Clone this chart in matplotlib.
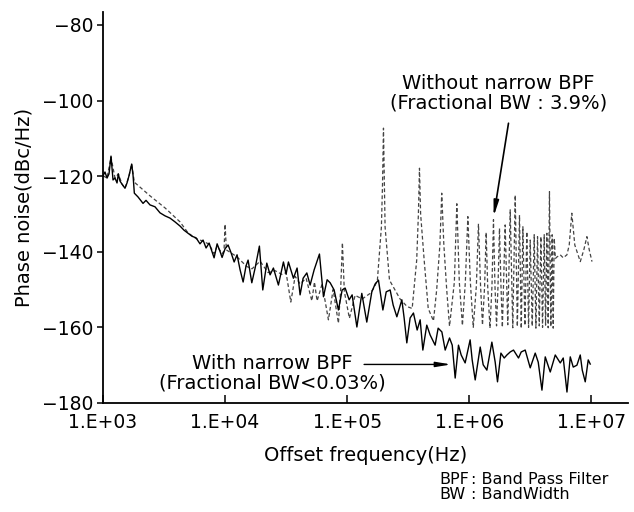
import matplotlib
matplotlib.use('Agg')
import matplotlib.pyplot as plt
from matplotlib.ticker import NullLocator

plt.rcParams['font.family'] = ['DejaVu Sans']

# --- measured phase noise, with narrow BPF (solid) ---
solid_hz = [1000, 1038, 1079, 1120, 1163, 1208, 1254, 1303, 1335, 1378,
            1431, 1514, 1573, 1633, 1718, 1762, 1806,
            1936, 2128, 2251, 2426, 2666, 2931, 3222, 3541, 3892, 4277,
            4612, 4973, 5362, 5781, 6233, 6601, 6990, 7402, 7838, 8130,
            8609, 9116, 9454, 10000, 10590, 11210,
            11870, 12540, 13280, 14060, 14860, 15440, 16560, 17630, 19110, 20370,
            21970, 23380, 24890, 27350, 30070, 31620, 33040, 36310, 38910, 41180,
            43590, 46760, 49760, 53650, 59330, 63990, 68580, 72590, 78220, 84860,
            91040, 96360, 103900, 109900, 120200, 131900, 144900, 159300, 169700, 180600,
            196300, 209000, 225100, 238300, 255500, 280700, 293100, 308300, 328200, 349400,
            374700, 396600, 417200, 449200, 478600, 525900, 556800, 597300, 635800, 690100,
            726200, 767700, 817000, 859700, 926500, 1018000, 1058000, 1120000, 1231000, 1302000,
            1396000, 1534000, 1633000, 1706000, 1819000, 1936000, 2037000, 2168000, 2307000, 2535000,
            2668000, 2877000, 3162000, 3475000, 3678000, 3945000, 4198000, 4614000, 5071000, 5573000,
            5895000, 6324000, 6730000, 7119000, 7632000, 8125000, 8437000, 8927000, 9445000, 9811000]
solid_db = [-119.9, -118.9, -120.5, -119.4, -114.7, -121.0, -120.5, -121.8, -119.4, -121.3,
            -122.1, -123.2, -121.8, -119.9, -116.8, -119.7, -124.5,
            -125.5, -127.2, -126.4, -127.6, -128.1, -129.7, -130.5, -131.1, -132.1, -133.2,
            -134.3, -135.1, -135.9, -136.3, -137.9, -136.9, -139.0, -137.7, -140.1, -141.6,
            -137.9, -140.0, -141.5, -139.2, -138.2, -140.3,
            -142.7, -140.8, -144.8, -148.0, -143.7, -142.2, -148.2, -144.3, -138.5, -150.1,
            -143.0, -146.1, -144.3, -148.8, -142.7, -145.9, -142.7, -147.0, -144.3, -151.4,
            -147.0, -145.6, -148.8, -144.8, -140.6, -151.9, -147.4, -148.2, -150.1, -155.4,
            -150.1, -149.6, -152.7, -151.4, -159.9, -151.0, -158.6, -150.6, -148.5, -147.5,
            -155.4, -150.6, -150.1, -154.1, -157.2, -152.7, -157.5, -164.1, -157.5, -156.2,
            -160.7, -158.0, -166.0, -159.4, -162.0, -164.7, -160.2, -161.2, -166.0, -162.8,
            -164.7, -173.4, -164.7, -167.3, -169.4, -163.3, -168.6, -173.9, -165.2, -169.9,
            -171.3, -163.9, -169.2, -174.4, -166.8, -168.1, -167.3, -166.5, -166.0, -168.1,
            -166.5, -166.0, -170.7, -166.8, -169.2, -176.6, -167.8, -171.8, -167.3, -169.4,
            -168.1, -177.1, -167.8, -170.5, -170.0, -167.3, -171.3, -174.4, -168.6, -169.7]

# --- without narrow BPF (dashed) ---
dash_hz = [1000, 1079, 1163, 1254, 1335, 1431, 1514, 1633, 1718, 1806,
           2426, 3222, 4277,
           4973, 5781, 6601, 7402, 8130, 8609, 9454, 9800, 10000, 10250, 12470, 15070,
           16640, 19360, 22510, 25680, 29310, 31620, 34560, 37500, 41180, 46150,
           51380, 54000, 56750, 62380, 70270, 76770, 84860, 88510, 91500, 94850,
           104400, 116300, 132700, 154400, 166400,
           177000, 190900, 195000, 198500, 201700, 204600, 222300, 271600, 310200, 341100,
           371500, 383600, 391500, 400000, 427700, 461700, 509700,
           541700, 575800, 595700, 619600, 654300, 690000,
           756000, 792000, 830000, 880000,
           930000, 975000, 1022000, 1080000,
           1145000, 1191000, 1239000, 1285000,
           1338000, 1377000, 1417000, 1480000,
           1537000, 1581000, 1626000, 1675000,
           1722000, 1771000, 1821000, 1870000,
           1971000, 2070000, 2168000, 2275000, 2383000, 2480000, 2583000, 2670000,
           2754000, 2860000, 2966000, 3065000, 3162000, 3285000, 3409000, 3520000,
           3630000, 3750000, 3867000, 3990000, 4117000, 4225000, 4329000, 4440000,
           4546000, 4665000, 4783000, 4880000, 4972000,
           5080000, 5224000, 5570000, 5895000, 6320000, 6600000, 6930000, 7330000,
           8130000, 8690000, 9210000, 9630000, 10140000]
dash_db = [-119.9, -120.5, -115.0, -120.5, -119.4, -122.1, -123.2, -120.0, -116.8, -121.6,
           -125.2, -128.4, -132.1,
           -135.0, -136.5, -137.2, -138.0, -140.5, -138.5, -140.5, -139.8, -132.7, -139.5, -141.3, -143.9,
           -144.5, -142.5, -145.5, -145.0, -146.0, -145.5, -153.3, -146.5, -148.5, -147.0,
           -153.0, -148.0, -153.0, -148.5, -158.0, -150.0, -158.9, -150.0, -137.6, -150.5,
           -157.6, -151.5, -152.5, -151.0, -149.5,
           -147.5, -133.4, -122.0, -107.3, -122.0, -133.4, -147.5, -152.5, -154.5, -155.0,
           -142.2, -130.0, -117.9, -130.0, -142.2, -155.0, -158.3,
           -150.0, -138.0, -124.5, -138.0, -150.0, -159.7,
           -148.0, -127.3, -148.0, -159.5,
           -148.0, -130.7, -148.0, -160.0,
           -149.0, -132.6, -149.0, -159.4,
           -149.0, -134.9, -149.0, -160.2,
           -149.0, -131.5, -149.0, -159.6,
           -149.0, -133.8, -149.0, -160.0,
           -132.9, -159.3, -128.9, -160.1, -125.0, -159.8, -130.3, -160.3,
           -133.4, -159.5, -134.7, -160.0, -136.9, -159.7, -135.5, -160.2,
           -136.0, -159.6, -136.0, -160.0, -135.5, -159.4, -135.1, -160.1,
           -124.1, -159.8, -135.5, -160.2, -136.4,
           -141.8, -141.4, -140.8, -141.6, -140.8, -138.2, -129.8, -138.2,
           -142.6, -139.5, -136.0, -139.5, -142.6]

x_ticks = [1e3, 1e4, 1e5, 1e6, 1e7]
x_tick_labels = ['1.E+03', '1.E+04', '1.E+05', '1.E+06', '1.E+07']
y_ticks = [-180, -160, -140, -120, -100, -80]

fig = plt.figure(figsize=(6.34, 5.12), dpi=100)
ax = fig.add_axes([103 / 634, 109 / 512, 525 / 634, 391.3 / 512])

ax.plot(dash_hz, dash_db, color='#444444', lw=0.9, dashes=(3, 2), zorder=2)
ax.plot(solid_hz, solid_db, color='black', lw=1.0, zorder=3)

ax.set_xscale('log')
ax.set_xlim(1e3, 2e7)
ax.set_ylim(-180, -76.5)
ax.set_xticks(x_ticks)
ax.set_xticklabels(x_tick_labels)
ax.xaxis.set_minor_locator(NullLocator())
ax.set_yticks(y_ticks)
ax.tick_params(axis='x', direction='in', length=6, width=1.1, labelsize=13.5, pad=7)
ax.tick_params(axis='y', direction='out', length=4, width=1.1, labelsize=13.5, pad=3)
for sp in ('top', 'right'):
    ax.spines[sp].set_visible(False)
for sp in ('left', 'bottom'):
    ax.spines[sp].set_linewidth(1.3)

ax.set_xlabel('Offset frequency(Hz)', fontsize=14, labelpad=10)
ax.set_ylabel('Phase noise(dBc/Hz)', fontsize=14, labelpad=6)

# annotations
ax.text(1.73e6, -98.1, 'Without narrow BPF\n(Fractional BW : 3.9%)',
        ha='center', va='center', fontsize=14, linespacing=1.05)
ax.annotate('', xy=(1.585e6, -130.7), xytext=(2.099e6, -106.0),
            arrowprops=dict(arrowstyle='-|>,head_length=0.9,head_width=0.15',
                            color='black', lw=1.2, shrinkA=0, shrinkB=0))
ax.text(24270, -172.1, 'With narrow BPF\n(Fractional BW<0.03%)',
        ha='center', va='center', fontsize=14, linespacing=1.05)
ax.annotate('', xy=(7.1e5, -169.8), xytext=(1.377e5, -169.8),
            arrowprops=dict(arrowstyle='-|>,head_length=0.9,head_width=0.15',
                            color='black', lw=1.0, shrinkA=0, shrinkB=0))

# abbreviation note, bottom right
fig.text(439 / 634, 1 - 487 / 512, 'BPF\nBW', fontsize=11.5, va='center',
         linespacing=1.0)
fig.text(471 / 634, 1 - 487 / 512, ': Band Pass Filter\n: BandWidth', fontsize=11.5,
         va='center', linespacing=1.0)

fig.savefig('out.png', dpi=100)
